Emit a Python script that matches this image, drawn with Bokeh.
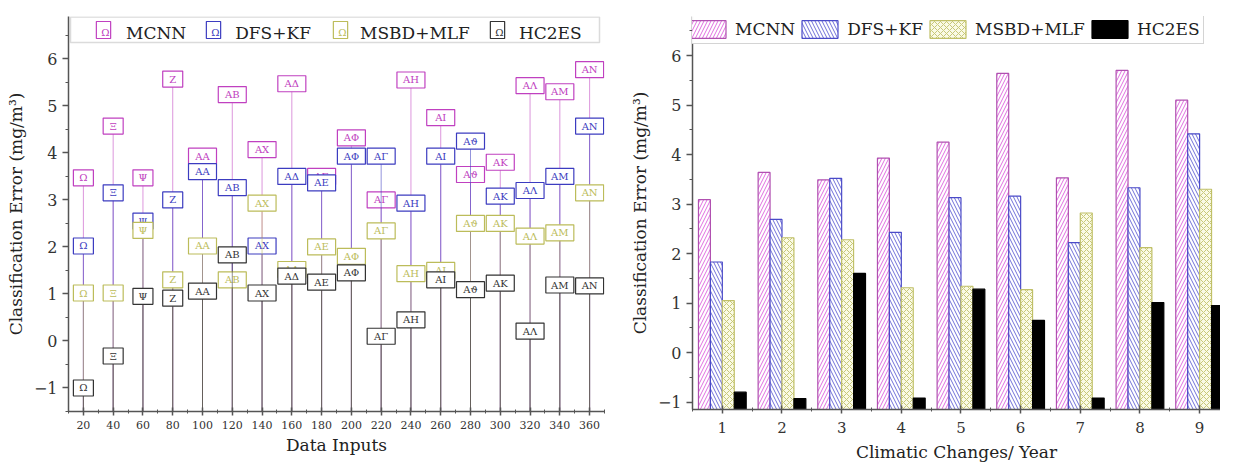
from bokeh.plotting import figure
from bokeh.layouts import row
from bokeh.models import (ColumnDataSource, Legend, LegendItem, SingleIntervalTicker, BoxAnnotation, Label)
from bokeh.embed import file_html
from bokeh.resources import INLINE
from bokeh.core.properties import value

# ---------------- data: left chart ----------------
data_inputs = [20, 40, 60, 80, 100, 120, 140, 160, 180, 200, 220, 240, 260, 280, 300, 320, 340, 360]
point_labels = ["Ω", "Ξ", "Ψ", "Z", "AA", "AB", "AX", "AΔ", "AE", "AΦ", "AΓ", "AH", "AI", "Aϑ", "AK", "AΛ", "AM", "AN"]
mcnn_left = [3.47, 4.57, 3.47, 5.57, 3.93, 5.24, 4.07, 5.47, 3.5, 4.32, 3.0, 5.55, 4.75, 3.54, 3.8, 5.43, 5.3, 5.77]
dfskf_left = [2.02, 3.15, 2.55, 3.0, 3.6, 3.26, 2.02, 3.5, 3.36, 3.93, 3.93, 2.93, 3.93, 4.25, 3.08, 3.2, 3.5, 4.57]
msbd_left = [1.02, 1.02, 2.35, 1.3, 2.02, 1.3, 2.93, 1.52, 2.0, 1.8, 2.34, 1.43, 1.5, 2.5, 2.5, 2.23, 2.3, 3.15]
hc2es_left = [-1.0, -0.32, 0.95, 0.91, 1.06, 1.83, 1.02, 1.38, 1.25, 1.45, 0.1, 0.45, 1.3, 1.09, 1.23, 0.21, 1.19, 1.17]
legend_symbol = "Ω"

# ---------------- data: right chart ----------------
years = [1, 2, 3, 4, 5, 6, 7, 8, 9]
mcnn_right = [3.09, 3.64, 3.49, 3.93, 4.25, 5.64, 3.53, 5.7, 5.1]
dfskf_right = [1.83, 2.69, 3.52, 2.43, 3.13, 3.16, 2.22, 3.33, 4.42]
msbd_right = [1.05, 2.32, 2.28, 1.31, 1.34, 1.27, 2.82, 2.12, 3.3]
hc2es_right = [-0.8, -0.93, 1.6, -0.92, 1.28, 0.65, -0.92, 1.01, 0.95]

series_names = ["MCNN", "DFS+KF", "MSBD+MLF", "HC2ES"]

FONT = "DejaVu Serif"
MAG = "#c040c0"
BLU = "#3c3cc0"
YEL = "#bcbc5a"
BLK = "#333333"


def style_axes(p, xfs, yfs, lfs):
    for ax in (p.xaxis[0], p.yaxis[0]):
        ax.axis_line_color = "#555555"
        ax.axis_line_width = 1.5
        ax.major_tick_line_color = "#555555"
        ax.minor_tick_line_color = "#555555"
        ax.major_tick_line_width = 1.5
        ax.major_label_text_font = FONT
        ax.axis_label_text_font = FONT
        ax.axis_label_text_font_style = "normal"
        ax.axis_label_text_color = "#222222"
        ax.major_label_text_color = "#333333"
        ax.axis_label_text_font_size = lfs
    p.xaxis.major_label_text_font_size = xfs
    p.yaxis.major_label_text_font_size = yfs
    p.xgrid.visible = False
    p.ygrid.visible = False
    p.outline_line_color = None
    p.xaxis.major_tick_in = 4
    p.xaxis.major_tick_out = 4
    p.xaxis.minor_tick_in = 2
    p.xaxis.minor_tick_out = 2
    p.yaxis.major_tick_in = 0
    p.yaxis.major_tick_out = 6
    p.yaxis.minor_tick_in = 0
    p.yaxis.minor_tick_out = 3
    p.xaxis.major_label_standoff = 5


# ================= left chart =================
X0, X1, Y0, Y1 = 10, 370, -1.5, 6.9
FW, FH = 536, 395  # frame size in px
p1 = figure(frame_width=FW, frame_height=FH, x_range=(X0, X1), y_range=(Y0, Y1),
            output_backend="svg", toolbar_location=None,
            min_border_left=68, min_border_right=11, min_border_top=13, min_border_bottom=48)
p1.xaxis.ticker = SingleIntervalTicker(interval=20, num_minor_ticks=2)
p1.yaxis.ticker = SingleIntervalTicker(interval=1, num_minor_ticks=2)
style_axes(p1, "11px", "16px", "17px")
p1.xaxis.axis_label_standoff = 3
p1.xaxis.axis_label = "Data Inputs"
p1.yaxis.axis_label = "Classification Error (mg/m³)"

legend_items_left = []
for name, vals, col in zip(series_names, [mcnn_left, dfskf_left, msbd_left, hc2es_left], [MAG, BLU, YEL, BLK]):
    src = ColumnDataSource(dict(x=data_inputs, y=vals, lab=point_labels,
                                y0=[Y0] * len(vals),
                                w=[12 + 8 * len(s) for s in point_labels]))
    p1.segment(x0="x", y0="y0", x1="x", y1="y", source=src, line_color=col, line_alpha=0.55, line_width=1)
    p1.rect(x="x", y="y", width="w", height=16, width_units="screen", height_units="screen",
            source=src, fill_color="white", line_color=col, line_width=1.2)
    p1.text(x="x", y="y", text="lab", source=src, text_color=col, text_font=value(FONT),
            text_font_size="10px", text_align="center", text_baseline="middle")
    # empty proxy: the legend swatch is drawn by a bordered label below
    proxy = p1.rect(x=[], y=[], width=1, height=1, fill_alpha=0, line_alpha=0)
    legend_items_left.append(LegendItem(label=name, renderers=[proxy]))

# legend frame box (data coordinates converted from pixel offsets)
px_x = (X1 - X0) / FW
px_y = (Y1 - Y0) / FH
p1.add_layout(BoxAnnotation(left=X0 + 2 * px_x, right=X0 + 531 * px_x, top=Y1 - 0.5 * px_y, bottom=Y1 - 26 * px_y,
                            fill_color="white", fill_alpha=1, line_color="#888888", line_width=1.5))

leg_pad, leg_gw, leg_so, leg_sp, leg_x = 4, 18, 18, 13, 22
leg1 = Legend(items=legend_items_left, orientation="horizontal", location=(leg_x, FH - 27),
              glyph_width=leg_gw, glyph_height=14, label_standoff=leg_so, spacing=leg_sp, padding=leg_pad,
              label_text_font=FONT, label_text_font_size="17px", label_text_color="#222222",
              border_line_color=None, background_fill_alpha=0, margin=0)
p1.add_layout(leg1)

# bordered symbols acting as legend swatches
est_w = [61, 78, 108, 65]
off = leg_x + leg_pad + leg_gw / 2
for i, col in enumerate([MAG, BLU, YEL, BLK]):
    p1.add_layout(Label(x=X0 + off * px_x, y=Y1 - 13.5 * px_y, text=legend_symbol, text_color=col,
                        text_font=FONT, text_font_size="10px", text_align="center", text_baseline="middle",
                        border_line_color=col, border_line_width=1.2, background_fill_color="white",
                        padding=(5, 1, 5, 1)))
    off += leg_gw + leg_so + est_w[i] + leg_sp

# ================= right chart =================
p2 = figure(frame_width=528, frame_height=393, x_range=(0.5, 9.35), y_range=(-1.15, 6.79),
            output_backend="svg", toolbar_location=None,
            min_border_left=77, min_border_right=0, min_border_top=16, min_border_bottom=48)
p2.xaxis.ticker = SingleIntervalTicker(interval=1, num_minor_ticks=2)
p2.yaxis.ticker = SingleIntervalTicker(interval=1, num_minor_ticks=2)
style_axes(p2, "15px", "16px", "17px")
p2.xaxis.major_label_standoff = 8
p2.xaxis.axis_label_standoff = 6
p2.xaxis.axis_label = "Climatic Changes/ Year"
p2.yaxis.axis_label = "Classification Error (mg/m³)"

offsets = [-0.3, -0.1, 0.1, 0.3]
styles = [
    dict(fill_color="white", line_color="#b050b0", hatch_pattern="/", hatch_color="#e070e0", hatch_scale=7, hatch_weight=1),
    dict(fill_color="white", line_color="#4a4ac8", hatch_pattern="\\", hatch_color="#7070d8", hatch_scale=7, hatch_weight=1),
    dict(fill_color="#fafae6", line_color="#c0c068", hatch_pattern="x", hatch_color="#c8c878", hatch_scale=6, hatch_weight=1),
    dict(fill_color="black", line_color="black"),
]
legend_items_right = []
for name, vals, o, st in zip(series_names, [mcnn_right, dfskf_right, msbd_right, hc2es_right], offsets, styles):
    src = ColumnDataSource(dict(x=[c + o for c in years], top=vals, b=[-1.15] * len(vals)))
    r = p2.vbar(x="x", top="top", bottom="b", width=0.2, source=src, line_width=1.2, **st)
    legend_items_right.append(LegendItem(label=name, renderers=[r]))

leg2 = Legend(items=legend_items_right, orientation="horizontal", location=(-11, 365),
              glyph_width=45, glyph_height=22, label_standoff=5, spacing=2, padding=3,
              label_text_font=FONT, label_text_font_size="17px", label_text_color="#222222",
              border_line_color="#aaaaaa", border_line_width=1.5, margin=0)
p2.add_layout(leg2)

layout = row(p1, p2)
open("out.html", "w").write(file_html(layout, INLINE))
